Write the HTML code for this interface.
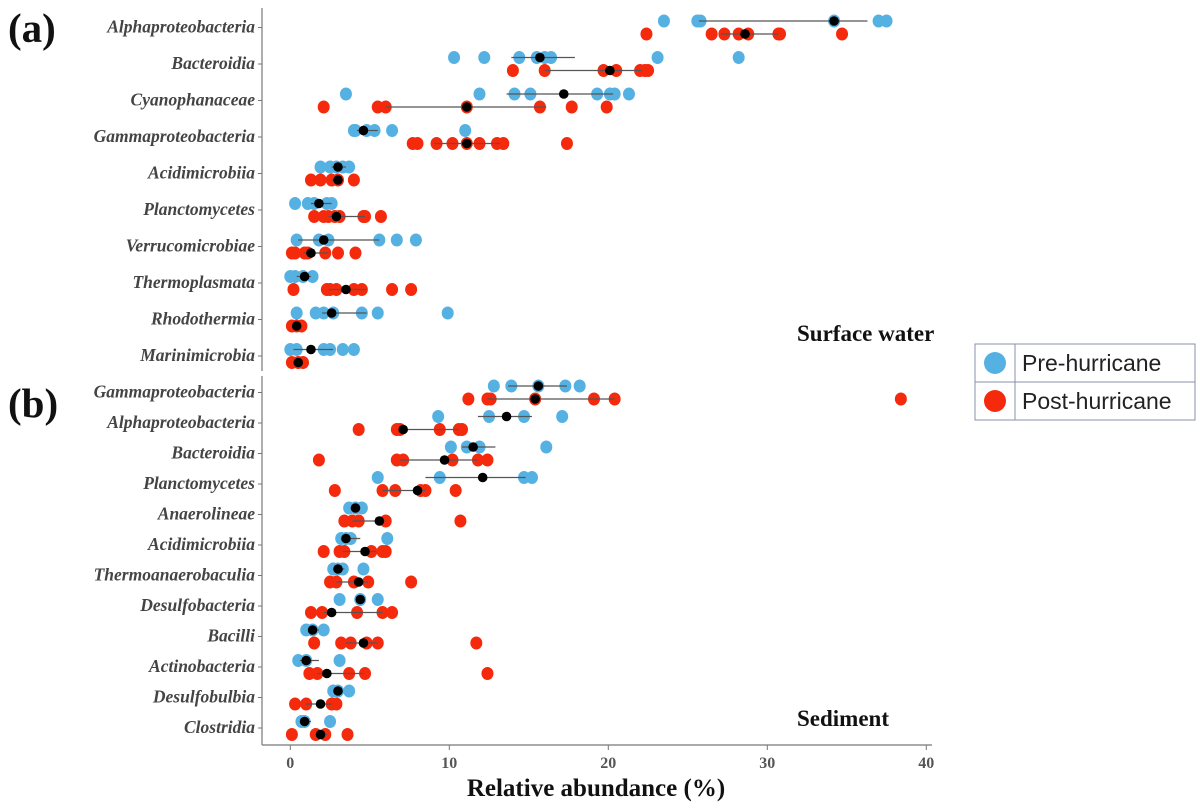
<!DOCTYPE html>
<html><head><meta charset="utf-8"><style>
html,body{margin:0;padding:0;background:#fff;}
svg{display:block;}
.cat{font-family:"Liberation Serif",serif;font-weight:bold;font-style:italic;font-size:17.5px;fill:#444;}
.tick{font-family:"Liberation Serif",serif;font-weight:bold;font-size:16px;fill:#555;}
</style></head><body>
<svg id="chart" width="1200" height="810" viewBox="0 0 1200 810" xmlns="http://www.w3.org/2000/svg">
<text x="8" y="42" font-family="Liberation Serif,serif" font-weight="bold" font-size="41" fill="#111">(a)</text>
<text x="8" y="417" font-family="Liberation Serif,serif" font-weight="bold" font-size="41" fill="#111">(b)</text>
<text x="797" y="341" font-family="Liberation Serif,serif" font-weight="bold" font-size="23" fill="#111">Surface water</text>
<text x="797" y="726" font-family="Liberation Serif,serif" font-weight="bold" font-size="23" fill="#111">Sediment</text>
<g>
<rect x="975" y="344" width="220" height="76" fill="#fff" stroke="#8890a8" stroke-width="1"/>
<line x1="975" y1="382" x2="1195" y2="382" stroke="#8890a8"/>
<line x1="1015" y1="344" x2="1015" y2="420" stroke="#8890a8"/>
<g><circle cx="995" cy="363" r="11" fill="#56b1e3"/><text x="1022" y="371" font-family="Liberation Sans,sans-serif" font-size="23" fill="#222">Pre-hurricane</text></g>
<g><circle cx="995" cy="401" r="11" fill="#f52a0c"/><text x="1022" y="409" font-family="Liberation Sans,sans-serif" font-size="23" fill="#222">Post-hurricane</text></g>
</g>
<text x="596" y="796" text-anchor="middle" font-family="Liberation Serif,serif" font-weight="bold" font-size="25" fill="#111">Relative abundance (%)</text>
<g id="plot"></g>
</svg>
<script>
const surfaceCats=["Alphaproteobacteria","Bacteroidia","Cyanophanaceae","Gammaproteobacteria","Acidimicrobiia","Planctomycetes","Verrucomicrobiae","Thermoplasmata","Rhodothermia","Marinimicrobia"];
const surfacePre=[[23.5,25.6,25.8,34.2,37.0,37.5],[10.3,12.2,14.4,15.5,16.0,16.4,23.1,28.2],[3.5,11.9,14.1,15.1,19.3,20.1,20.4,21.3],[4.0,4.1,4.8,5.3,6.4,11.0],[1.9,2.5,2.9,3.3,3.7],[0.3,1.1,1.5,2.3,2.6],[0.4,1.8,2.4,5.6,6.7,7.9],[0.0,0.3,0.8,1.4],[0.4,1.6,2.1,2.7,4.5,5.5,9.9],[0.0,0.4,2.1,2.5,3.3,4.0]];
const surfacePost=[[22.4,26.5,27.3,28.2,28.8,30.7,30.8,34.7],[14.0,16.0,19.7,20.5,22.0,22.3,22.5],[2.1,5.5,6.0,11.1,15.7,17.7,19.9],[7.7,8.0,9.2,10.2,11.1,11.9,13.0,13.4,17.4],[1.3,1.9,2.6,3.0,4.0],[1.5,2.1,2.4,2.8,3.1,4.6,4.7,5.7],[0.1,0.3,0.9,1.1,2.2,3.0,4.1],[0.2,2.3,2.5,2.9,4.0,4.5,6.4,7.6],[0.1,0.4,0.7],[0.1,0.5,0.8]];
const surfacePreMean=[34.2,15.7,17.2,4.6,3.0,1.8,2.1,0.9,2.6,1.3];
const surfacePostMean=[28.6,20.1,11.1,11.1,3.0,2.9,1.3,3.5,0.4,0.5];
const surfacePreRange=[[25.7,36.3],[13.9,17.9],[13.6,20.3],[4.2,5.5],[2.6,3.5],[1.3,2.6],[0.5,5.6],[0.4,1.3],[2.0,4.8],[0.2,2.7]];
const surfacePostRange=[[27.1,30.7],[16.0,22.1],[6.0,16.1],[9.0,13.2],[2.6,3.2],[2.4,4.7],[0.8,2.4],[2.4,4.8],[0.3,0.5],[0.4,0.6]];
const sedCats=["Gammaproteobacteria","Alphaproteobacteria","Bacteroidia","Planctomycetes","Anaerolineae","Acidimicrobiia","Thermoanaerobaculia","Desulfobacteria","Bacilli","Actinobacteria","Desulfobulbia","Clostridia"];
const sedPre=[[12.8,13.9,15.6,17.3,18.2],[9.3,12.5,14.7,17.1],[10.1,11.1,11.9,16.1],[5.5,9.4,14.7,15.2],[3.7,4.1,4.5],[3.2,3.5,3.8,6.1],[2.7,3.0,3.3,4.6],[3.1,4.4,5.5],[1.0,1.4,2.1],[0.5,1.0,3.1],[2.7,3.0,3.7],[0.7,0.9,2.5]];
const sedPost=[[11.2,12.4,12.6,15.4,19.1,20.4,38.4],[4.3,6.7,6.9,9.4,10.6,10.8],[1.8,6.7,7.1,10.2,11.8,12.4],[2.8,5.8,6.6,8.2,8.5,10.4],[3.4,3.9,4.3,6.0,10.7],[2.1,3.1,3.4,5.1,5.8,6.0],[2.5,2.9,4.0,4.9,7.6],[1.3,2.0,4.2,5.8,6.4],[1.5,3.2,3.8,4.8,5.5,11.7],[1.2,1.7,3.7,4.7,12.4],[0.3,1.0,2.6,2.9],[0.1,1.6,2.2,3.6]];
const sedPreMean=[15.6,13.6,11.5,12.1,4.1,3.5,3.0,4.4,1.4,1.0,3.0,0.9];
const sedPostMean=[15.4,7.1,9.7,8.0,5.6,4.7,4.3,2.6,4.6,2.3,1.9,1.9];
const sedPreRange=[[13.7,17.4],[11.8,15.2],[10.8,12.9],[8.5,14.8],[3.8,4.4],[3.3,4.4],[2.8,3.4],[4.2,4.6],[1.2,1.8],[0.6,1.8],[2.8,3.3],[0.6,1.3]];
const sedPostRange=[[12.4,20.4],[6.9,10.6],[6.9,11.8],[5.8,8.5],[3.9,6.0],[3.3,5.4],[2.9,4.9],[2.1,5.8],[3.5,5.5],[1.7,4.6],[1.0,2.6],[1.6,2.3]];
const xTicks=[0,10,20,30,40];

const NS="http://www.w3.org/2000/svg";
const plot=document.getElementById('plot');
function xS(v){return 290.3+v*15.9;}
function mk(tag,attrs,parent){const e=document.createElementNS(NS,tag);for(const k in attrs)e.setAttribute(k,attrs[k]);(parent||plot).appendChild(e);return e;}

let ay=mk('line',{x1:262,y1:8,x2:262,y2:371,stroke:'#777','stroke-width':1.2});


let ay2=mk('line',{x1:262,y1:376,x2:262,y2:745,stroke:'#777','stroke-width':1.2});


let ax=mk('line',{x1:262,y1:745,x2:932,y2:745,stroke:'#777','stroke-width':1.2});


xTicks.forEach(t=>{
  mk('line',{x1:xS(t),y1:745,x2:xS(t),y2:750,stroke:'#777'});
  const tl=mk('text',{x:xS(t),y:768,'text-anchor':'middle',class:'tick'});
  tl.textContent=t;
  
  
});

function panel(cats,pre,post,preM,postM,preR,postR,y0,step,name){
  cats.forEach((c,i)=>{
    const yc=y0+i*step;
    mk('line',{x1:258,y1:yc,x2:262,y2:yc,stroke:'#777'});
    const lab=mk('text',{x:255,y:yc+5,'text-anchor':'end',class:'cat'});
    lab.textContent=c;
    
    
    const yb=yc-6.5, yr=yc+6.5;
    pre[i].forEach(v=>{const d=mk('ellipse',{cx:xS(v),cy:yb,rx:6,ry:6.5,fill:'#56b1e3'});
      
      });
    post[i].forEach(v=>{const d=mk('ellipse',{cx:xS(v),cy:yr,rx:6,ry:6.5,fill:'#f52a0c'});
      
      });
    const l1=mk('line',{x1:xS(preR[i][0]),y1:yb,x2:xS(preR[i][1]),y2:yb,stroke:'#555','stroke-width':1.2});
    
    
    const l2=mk('line',{x1:xS(postR[i][0]),y1:yr,x2:xS(postR[i][1]),y2:yr,stroke:'#555','stroke-width':1.2});
    
    
    const m1=mk('circle',{cx:xS(preM[i]),cy:yb,r:4.8,fill:'#000'});
    
    
    const m2=mk('circle',{cx:xS(postM[i]),cy:yr,r:4.8,fill:'#000'});
    
    
  });
}
panel(surfaceCats,surfacePre,surfacePost,surfacePreMean,surfacePostMean,surfacePreRange,surfacePostRange,27.5,36.5,'surface');
panel(sedCats,sedPre,sedPost,sedPreMean,sedPostMean,sedPreRange,sedPostRange,392.5,30.5,'sediment');
</script>
</body></html>
